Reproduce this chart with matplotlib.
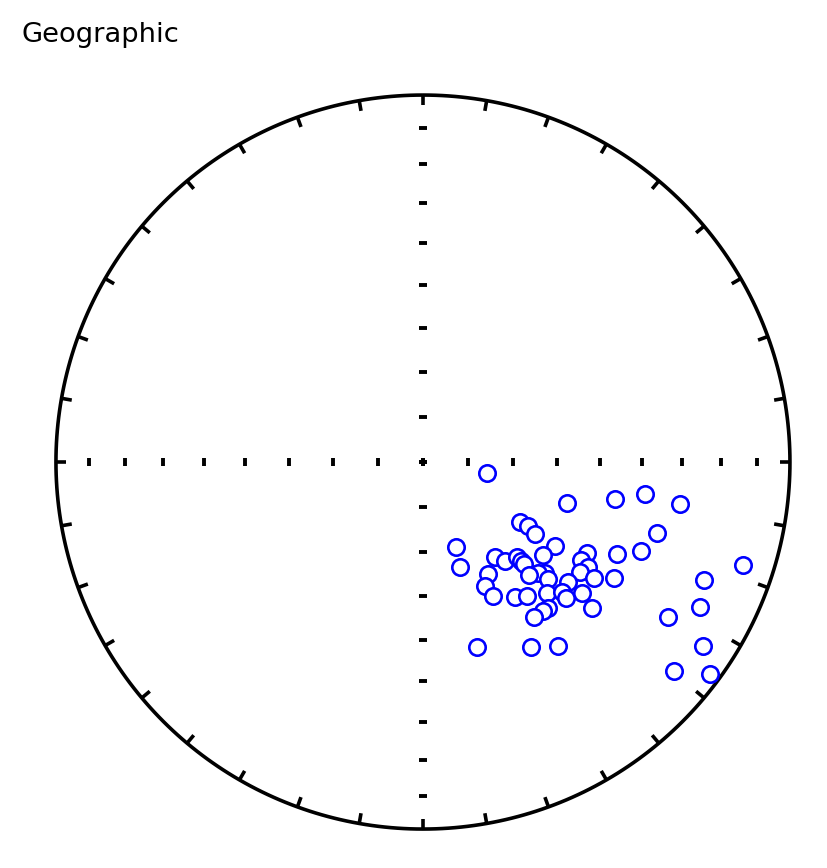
#!/usr/bin/env python3
"""Equal-area net of directions in geographic coordinates."""

import numpy as np
import matplotlib

matplotlib.use("Agg")
import matplotlib.pyplot as plt

# declination / inclination (degrees) of each direction
decs = [99.8, 105.9, 100.9, 98.2, 99.3, 121.7, 121.4, 122.7, 106.9, 122.5,
        158.8, 127.8, 112.2, 115.4, 119.0, 142.8, 140.4, 135.3, 135.3, 135.3,
        160.6, 121.8, 122.5, 132.3, 134.0, 136.8, 149.9, 125.0, 129.6, 124.2,
        121.3, 133.1, 153.4, 107.8, 112.8, 152.4, 145.7, 142.2, 136.6, 133.1,
        133.6, 129.5, 139.4, 141.2, 144.4, 130.8, 117.6, 122.3, 163.7, 149.7,
        143.7, 123.3, 129.8, 126.5]
incs = [75.6, 56.5, 45.7, 38.8, 29.8, 64.6, 62.6, 60.3, 33.8, 54.9,
        69.8, 56.0, 36.0, 41.1, 47.6, 63.4, 61.3, 60.2, 58.9, 57.9,
        65.2, 48.0, 45.7, 52.9, 54.1, 55.3, 61.1, 46.6, 47.5, 43.1,
        39.0, 51.5, 59.0, 9.3, 18.1, 56.1, 53.3, 51.9, 49.3, 47.0,
        45.3, 43.2, 46.5, 46.7, 46.9, 39.0, 15.9, 22.1, 46.4, 41.2,
        37.8, 9.6, 12.0, 3.1]

title = "Geographic"


def dimap(dec, inc):
    """Lambert equal-area projection of dec/inc onto the unit circle."""
    d = np.radians(np.asarray(dec, dtype=float))
    i = np.radians(np.asarray(inc, dtype=float))
    r = np.sqrt(1.0 - np.abs(np.sin(i)))
    return r * np.sin(d), r * np.cos(d)


fig = plt.figure(figsize=(8.28, 8.68), dpi=100)
ax = fig.add_axes([37.6 / 828, 20.6 / 868, 770.7 / 828, 770.7 / 868])
ax.set_xlim(-1.05, 1.05)
ax.set_ylim(-1.05, 1.05)
ax.axis("off")

# perimeter
xc, yc = dimap(np.arange(0, 361.0), np.zeros(361))
ax.plot(xc, yc, color="k", lw=2.6, solid_capstyle="butt")

# perimeter ticks every 10 degrees
for d in range(0, 360, 10):
    xt, yt = dimap([d, d], [0, 3.2])
    ax.plot(xt, yt, color="k", lw=2.6, solid_capstyle="butt")

# inclination ticks along the axes
tick_inc = np.arange(10, 100, 10)
for d in (90, 270):
    xs, ys = dimap(np.full(tick_inc.size, d), tick_inc)
    ax.plot(xs, ys, ls="none", marker="|", color="k", ms=5.5, mew=2.8)
for d in (0, 180):
    xs, ys = dimap(np.full(tick_inc.size, d), tick_inc)
    ax.plot(xs, ys, ls="none", marker="_", color="k", ms=5.5, mew=2.8)

# directions
xd, yd = dimap(decs, incs)
ax.plot(xd, yd, ls="none", marker="o", ms=11.8, mfc="white", mec="blue", mew=1.9)

fig.text(22 / 828, 1 - 42 / 868, title, fontsize=19.7, ha="left", va="baseline")

fig.savefig("out.png", dpi=100)
plt.close(fig)
